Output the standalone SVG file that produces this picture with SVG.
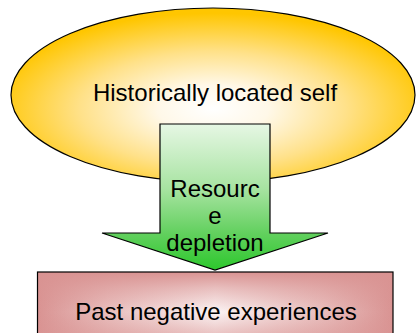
<svg xmlns="http://www.w3.org/2000/svg" width="416" height="333" viewBox="0 0 416 333">
  <style>
    .label { font-family: "Liberation Sans", Arial, sans-serif; font-size: 24px; fill: #000; text-anchor: middle; }
    .outline { stroke: #000; stroke-width: 1.2; }
  </style>
  <defs>
    <!-- warm glow for the self ellipse -->
    <radialGradient id="goldGlow" cx="50%" cy="58%" r="55%">
      <stop offset="0" stop-color="#FFFFFF"/>
      <stop offset="0.25" stop-color="#FFF8E8"/>
      <stop offset="0.6" stop-color="#FFE189"/>
      <stop offset="1" stop-color="#FFC600"/>
    </radialGradient>
    <!-- green fade down the block arrow -->
    <linearGradient id="greenFade" x1="0" y1="124" x2="0" y2="270" gradientUnits="userSpaceOnUse">
      <stop offset="0" stop-color="#E6F7E4"/>
      <stop offset="0.45" stop-color="#A6E3A0"/>
      <stop offset="0.75" stop-color="#62D05E"/>
      <stop offset="1" stop-color="#2DC82D"/>
    </linearGradient>
    <!-- rectangular-looking pink glow: horizontal base plus vertical edge tint -->
    <linearGradient id="pinkH" x1="0" y1="0" x2="1" y2="0">
      <stop offset="0" stop-color="#D99392"/>
      <stop offset="0.2" stop-color="#E9BFBE"/>
      <stop offset="0.5" stop-color="#FBF4F4"/>
      <stop offset="0.8" stop-color="#E9BFBE"/>
      <stop offset="1" stop-color="#D99392"/>
    </linearGradient>
    <linearGradient id="pinkV" x1="0" y1="0" x2="0" y2="1">
      <stop offset="0" stop-color="#D99392" stop-opacity="1"/>
      <stop offset="0.2" stop-color="#D99392" stop-opacity="0.55"/>
      <stop offset="0.5" stop-color="#D99392" stop-opacity="0"/>
      <stop offset="0.8" stop-color="#D99392" stop-opacity="0.55"/>
      <stop offset="1" stop-color="#D99392" stop-opacity="1"/>
    </linearGradient>
  </defs>

  <g id="historically-located-self">
    <ellipse cx="213" cy="95" rx="202" ry="87" fill="url(#goldGlow)" class="outline"/>
    <text class="label" x="215" y="101">Historically located self</text>
  </g>

  <g id="connectors">
    <g id="resource-depletion">
      <polygon points="160,124 270,124 270,233 328,233 215,270 102,233 160,233" fill="url(#greenFade)" class="outline" stroke-linejoin="miter"/>
      <text class="label" x="215" y="197">Resourc</text>
      <text class="label" x="215" y="224">e</text>
      <text class="label" x="215" y="251">depletion</text>
    </g>
  </g>

  <g id="past-negative-experiences">
    <rect x="37.5" y="272" width="355.5" height="80" fill="url(#pinkH)"/>
    <rect x="37.5" y="272" width="355.5" height="80" fill="url(#pinkV)" class="outline"/>
    <text class="label" x="216" y="320">Past negative experiences</text>
  </g>
</svg>
